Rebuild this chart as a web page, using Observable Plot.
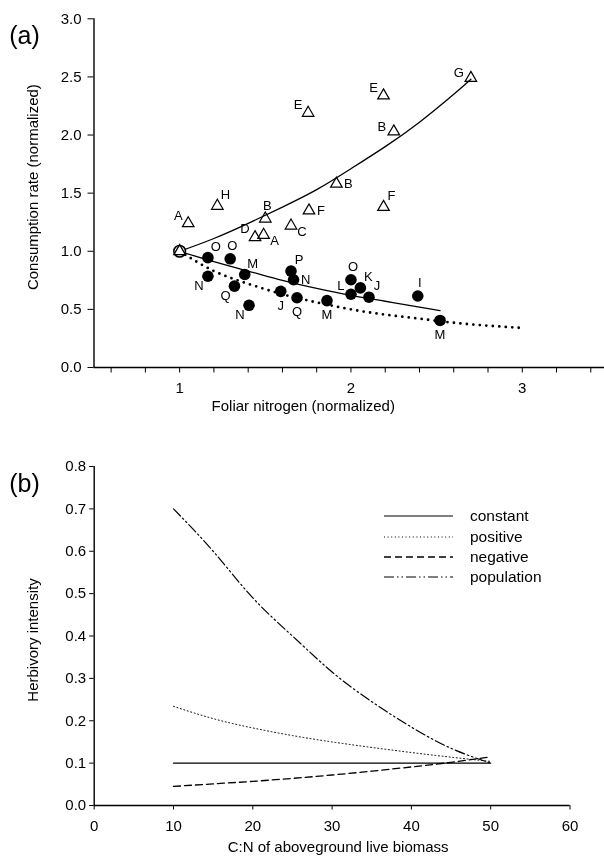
<!DOCTYPE html>
<html>
<head>
<meta charset="utf-8">
<script src="https://cdn.jsdelivr.net/npm/d3@7"></script>
<script src="https://cdn.jsdelivr.net/npm/@observablehq/plot@0.6"></script>
<style>
  html, body { margin: 0; padding: 0; background: #fff; }
  #wrap { position: relative; width: 604px; height: 863px; font-family: "Liberation Sans", Arial, sans-serif; background: #fff; filter: grayscale(100%); }
  #wrap svg { display: block; }
  #legend { position: absolute; left: 384px; top: 506px; font-size: 15.5px; color: #000; }
  #legend .row { display: flex; align-items: center; height: 20.4px; }
  #legend .row span { margin-left: 17px; }
</style>
</head>
<body>
<div id="wrap"></div>
<script>
// ---------- Panel (a) data ----------
const triLabel = ["A","H","B","F","C","D","A","E","E","B","G","B","F"];
const triN     = [1.05,1.22,1.50,1.755,1.65,1.44,1.49,1.75,2.19,2.25,2.70,1.915,2.19];
const triC     = [1.24,1.39,1.28,1.35,1.22,1.12,1.14,2.19,2.34,2.03,2.49,1.58,1.38];
const triPos   = ["nw","ne","n","e","se","nw","se","nw","nw","w","w","e","ne"];

const cirLabel = ["O","O","N","M","Q","N","P","N","J","Q","M","O","L","K","J","I","M"];
const cirN     = [1.165,1.295,1.165,1.38,1.32,1.405,1.65,1.665,1.59,1.685,1.86,2.00,2.00,2.055,2.105,2.39,2.52];
const cirC     = [0.945,0.935,0.785,0.80,0.70,0.535,0.83,0.755,0.655,0.60,0.575,0.755,0.63,0.685,0.605,0.615,0.405];
const cirPos   = ["ne","n","sw","ne","sw","sw","ne","e","s","s","s","n","nw","ne","ne","n","s"];

const originN = [1.0], originC = [1.0];

// fitted curves
const upN  = [1.0,1.2,1.4,1.6,1.8,2.0,2.2,2.4,2.6,2.7];
const upC  = [1.00,1.11,1.24,1.38,1.53,1.71,1.90,2.11,2.35,2.48];
const lowN = [1.0,1.2,1.4,1.6,1.8,2.0,2.2,2.4,2.52];
const lowC = [1.00,0.91,0.83,0.75,0.68,0.62,0.57,0.52,0.49];
const dotN = [1.0,1.2,1.4,1.6,1.8,2.0,2.2,2.4,2.6,2.8,3.0];
const dotC = [1.00,0.83,0.72,0.63,0.56,0.50,0.455,0.42,0.385,0.36,0.34];

const xTicksA = [0.6,0.8,1.0,1.2,1.4,1.6,1.8,2.0,2.2,2.4,2.6,2.8,3.0,3.2,3.4];
const yTicksA = [0,0.5,1.0,1.5,2.0,2.5,3.0];

// ---------- Panel (b) data ----------
const cn        = [10,15,20,25,30,35,40,45,50];
const constant  = [0.100,0.100,0.100,0.100,0.100,0.100,0.100,0.100,0.100];
const positive  = [0.234,0.205,0.183,0.165,0.150,0.137,0.125,0.114,0.104];
const negative  = [0.045,0.051,0.057,0.064,0.072,0.081,0.091,0.102,0.115];
const population= [0.700,0.600,0.490,0.400,0.315,0.245,0.185,0.135,0.100];
const seriesNames = ["constant","positive","negative","population"];
const xTicksB = [0,10,20,30,40,50,60];
const yTicksB = [0,0.1,0.2,0.3,0.4,0.5,0.6,0.7,0.8];

// ---------- helpers ----------
const zip = (xs, ys, extra = {}) => xs.map((x, i) => {
  const o = {x, y: ys[i]};
  for (const k in extra) o[k] = extra[k][i];
  return o;
});
const posOff = {
  nw: [-10,-8], ne: [8,-11], n: [2,-13], e: [12,0], se: [11,6],
  sw: [-9,10], s: [0,14], w: [-12,-5]
};
const FONT = '"Liberation Sans", Arial, sans-serif';

function labelMarks(data) {
  return Object.keys(posOff).map(k => Plot.text(data.filter(d => d.pos === k), {
    x: "x", y: "y", text: "label", dx: posOff[k][0], dy: posOff[k][1],
    fontSize: 13, fill: "black"
  }));
}

const tris = zip(triN, triC, {label: triLabel, pos: triPos});
const cirs = zip(cirN, cirC, {label: cirLabel, pos: cirPos});

const plotA = Plot.plot({
  width: 604, height: 430,
  marginLeft: 93.5, marginRight: 0, marginTop: 18.3, marginBottom: 63,
  style: {fontFamily: FONT, fontSize: "15px", background: "white", overflow: "visible", color: "black"},
  x: {domain: [0.5, 3.48], ticks: xTicksA, tickSize: 5.5, tickPadding: 9.5,
      tickFormat: d => Math.abs(d - Math.round(d)) < 1e-9 ? String(Math.round(d)) : "", label: null},
  y: {domain: [0, 3], ticks: yTicksA, tickSize: 6, tickPadding: 6.5, tickFormat: d3.format(".1f"), label: null},
  marks: [
    Plot.ruleX([0.5], {stroke: "black", strokeWidth: 1.4}),
    Plot.ruleY([0], {stroke: "black", strokeWidth: 1.4}),
    Plot.line(zip(upN, upC), {x: "x", y: "y", curve: "natural", stroke: "black", strokeWidth: 1.3}),
    Plot.line(zip(lowN, lowC), {x: "x", y: "y", curve: "natural", stroke: "black", strokeWidth: 1.3}),
    Plot.line(zip(dotN, dotC), {x: "x", y: "y", curve: "natural", stroke: "black", strokeWidth: 2.8,
      strokeDasharray: "0,6.5", strokeLinecap: "round"}),
    Plot.dot(cirs, {x: "x", y: "y", r: 5.8, fill: "black", stroke: "none"}),
    Plot.dot(zip(originN, originC), {x: "x", y: "y", r: 5.8, fill: "white", stroke: "black", strokeWidth: 1.6}),
    Plot.dot(zip(originN, originC), {x: "x", y: "y", r: 4.3, symbol: "triangle", fill: "none", stroke: "black", strokeWidth: 1.3}),
    Plot.dot(tris, {x: "x", y: "y", r: 4.3, symbol: "triangle", fill: "none", stroke: "black", strokeWidth: 1.2}),
    ...labelMarks(tris),
    ...labelMarks(cirs),
    Plot.text(["Consumption rate (normalized)"], {frameAnchor: "left", textAnchor: "middle", rotate: -90, dx: -60.5, dy: -6, fontSize: 15}),
    Plot.text(["Foliar nitrogen (normalized)"], {frameAnchor: "bottom", textAnchor: "middle", dx: -46, dy: 43, fontSize: 15}),
    Plot.text(["(a)"], {frameAnchor: "top-left", textAnchor: "middle", dx: -69.5, dy: 7, fontSize: 25})
  ]
});

// panel (b)
const seriesB = [constant, positive, negative, population];
const linesB = seriesB.flatMap((vals, si) => cn.map((x, i) => ({x, y: vals[i], s: seriesNames[si]})));
const dashes = {constant: null, positive: "1,2.6", negative: "7,4", population: "10,3,1.5,3,1.5,3"};
const widths = {constant: 1.2, positive: 1.0, negative: 1.3, population: 1.2};

const plotB = Plot.plot({
  width: 604, height: 433,
  marginLeft: 93.7, marginRight: 34.5, marginTop: 36, marginBottom: 58,
  style: {fontFamily: FONT, fontSize: "15px", background: "white", overflow: "visible", color: "black"},
  x: {domain: [0, 60], ticks: xTicksB, tickSize: 4.5, tickPadding: 10, label: null},
  y: {domain: [0, 0.8], ticks: yTicksB, tickSize: 4.5, tickPadding: 3.5, tickFormat: d3.format(".1f"), label: null},
  marks: [
    Plot.ruleX([0], {stroke: "black", strokeWidth: 1.4}),
    Plot.ruleY([0], {stroke: "black", strokeWidth: 1.4}),
    ...seriesNames.map(s => Plot.line(linesB.filter(d => d.s === s), {
      x: "x", y: "y", curve: "natural", stroke: "black",
      strokeWidth: widths[s], strokeDasharray: dashes[s] || undefined
    })),
    Plot.text(["Herbivory intensity"], {frameAnchor: "left", textAnchor: "middle", rotate: -90, dx: -60.7, dy: 4, fontSize: 15}),
    Plot.text(["C:N of aboveground live biomass"], {frameAnchor: "bottom", textAnchor: "middle", dx: 6, dy: 46, fontSize: 15}),
    Plot.text(["(b)"], {frameAnchor: "top-left", textAnchor: "middle", dx: -69.7, dy: 7.3, fontSize: 25})
  ]
});

const wrap = document.getElementById("wrap");
wrap.appendChild(plotA);
wrap.appendChild(plotB);

// legend (HTML overlay)
const leg = document.createElement("div");
leg.id = "legend";
seriesNames.forEach(s => {
  const row = document.createElement("div");
  row.className = "row";
  const d = dashes[s] ? `stroke-dasharray="${dashes[s]}"` : "";
  row.innerHTML = `<svg width="69" height="6" style="display:inline-block;overflow:visible"><line x1="0" x2="69" y1="3" y2="3" stroke="black" stroke-width="${widths[s]}" ${d}/></svg><span>${s}</span>`;
  leg.appendChild(row);
});
wrap.appendChild(leg);
</script>
</body>
</html>
